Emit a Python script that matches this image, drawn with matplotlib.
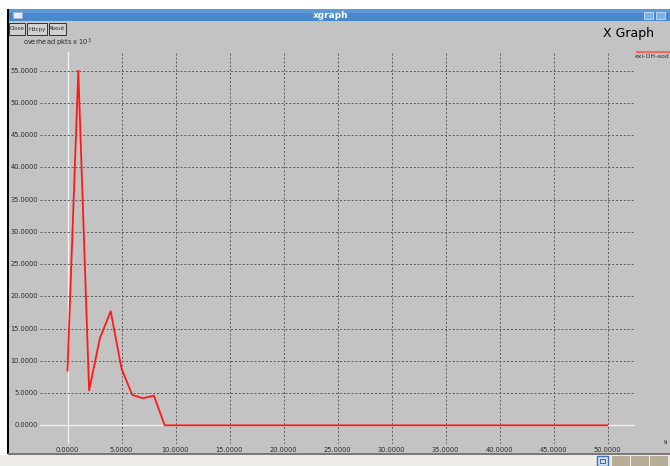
"""xgraph screenshot: overhead packets vs time."""
import matplotlib
matplotlib.use("Agg")
import matplotlib.pyplot as plt
from matplotlib.patches import Rectangle

W, H = 670, 466

# ---- data ----
time_s = list(range(0, 51))
overhead_k = [8.5, 55.0, 5.4, 13.5, 17.7, 8.8, 4.7, 4.2, 4.6] + [0.0] * 42
x_ticks = [0, 5, 10, 15, 20, 25, 30, 35, 40, 45, 50]
y_ticks = [0, 5, 10, 15, 20, 25, 30, 35, 40, 45, 50, 55]
series_name = "exi-OH-aod"   # cut by the window edge in the original
x_name = "ti"

# ---- palette ----
GRAY = "#C3C3C3"
GRID = "#5A5A5A"
INK = "#2B2B2B"
RED = "#FF1A1A"
BLUE = "#4A88CC"
BEIGE = "#EDEBE6"


def fx(x):
    return x / W


def fy(y):
    return 1 - y / H


fig = plt.figure(figsize=(W / 100, H / 100), dpi=100)
fig.patch.set_facecolor("white")

# window chrome drawn in figure pixel coordinates
def rect(x0, y0, x1, y1, fc, ec="none", lw=0.0, z=0):
    fig.patches.append(Rectangle((fx(x0), fy(y1)), fx(x1 - x0), (y1 - y0) / H,
                                 transform=fig.transFigure, fc=fc, ec=ec, lw=lw,
                                 zorder=z))

rect(8, 21, W, 454, GRAY)                  # client area
rect(8, 9, W, 21, BLUE)                     # title bar
rect(8, 9, W, 13, "#5E98D6")
rect(7, 9, 9, 454, "black", z=2)            # left border
rect(8, 453, W, 455, "#7A7A7A", z=2)
rect(0, 455, W, H, BEIGE)                   # task strip
rect(597, 456, 608, H, "#D8E4F2", ec="#3D6FB0", lw=1.0)
rect(600, 459, 605, 463, "none", ec="#3D6FB0", lw=0.8)
for bx in (612, 631, 650):
    rect(bx, 456, bx + 18, H, "#B8AE98")
for bx in (644, 656):
    rect(bx, 12, bx + 9, 19, "#7DB0E6", ec="#C8DDF3", lw=0.6)
rect(13, 12, 22, 18, "#E8EEF6", ec="#9DB6D6", lw=0.5)

fig.text(fx(331), fy(15), "xgraph", color="white", fontsize=6.5,
         fontweight="bold", ha="center", va="center")

for x0, x1, label in [(9, 25, "Close"), (27, 47, "Hdcpy"), (49, 66, "About")]:
    rect(x0, 23, x1, 35, "#D0D0D0", ec="#333333", lw=0.7, z=3)
    fig.text(fx((x0 + x1) / 2), fy(29), label, fontsize=4.0, color=INK,
             ha="center", va="center", zorder=4)

fig.text(fx(23), fy(43), "overhead pkts x 10$^3$", fontsize=4.8, color=INK,
         ha="left", va="center")
fig.text(fx(603), fy(34), "X Graph", fontsize=9, color="black",
         ha="left", va="center")

# legend entry (cut off by the window edge)
rect(636, 51, W, 52.5, "#FF6060", z=3)
fig.text(fx(635), fy(57), series_name, fontsize=4.4, color=INK,
         ha="left", va="center")
fig.text(fx(664), fy(443), x_name, fontsize=4.6, color=INK,
         ha="left", va="center")

# ---- plot area: pixel box x 40..635, y 52..444 ----
x0px, sx = 67.5, 10.8
y0px, sy = 425.3, 6.447
ax = fig.add_axes([fx(40), fy(444), fx(595), 392 / H], zorder=5)
ax.set_xlim((40 - x0px) / sx, (635 - x0px) / sx)
ax.set_ylim((y0px - 444) / sy, (y0px - 52) / sy)
ax.patch.set_alpha(0)
for s in ax.spines.values():
    s.set_visible(False)
ax.set_xticks([])
ax.set_yticks([])

for xv in x_ticks:
    if xv == 0:
        ax.axvline(xv, color="#F2F2F2", lw=1.0, zorder=1)
    else:
        ax.axvline(xv, color=GRID, lw=0.7, ls=(0, (2, 2)), zorder=1)
    ax.annotate(f"{xv:.4f}", (xv, 0), xycoords=("data", "axes fraction"),
                xytext=(0, -6), textcoords="offset pixels", ha="center",
                va="center", fontsize=4.8, color=INK, annotation_clip=False)
for yv in y_ticks:
    if yv == 0:
        ax.axhline(yv, color="#F2F2F2", lw=1.0, zorder=1)
    else:
        ax.axhline(yv, color=GRID, lw=0.7, ls=(0, (2, 2)), zorder=1)
    ax.annotate(f"{yv:.4f}", (0, yv), xycoords=("axes fraction", "data"),
                xytext=(-2, 0), textcoords="offset pixels", ha="right",
                va="center", fontsize=4.8, color=INK, annotation_clip=False)

ax.plot(time_s, overhead_k, color=RED, lw=1.3, zorder=3)

fig.savefig("out.png", dpi=100, facecolor="white")
